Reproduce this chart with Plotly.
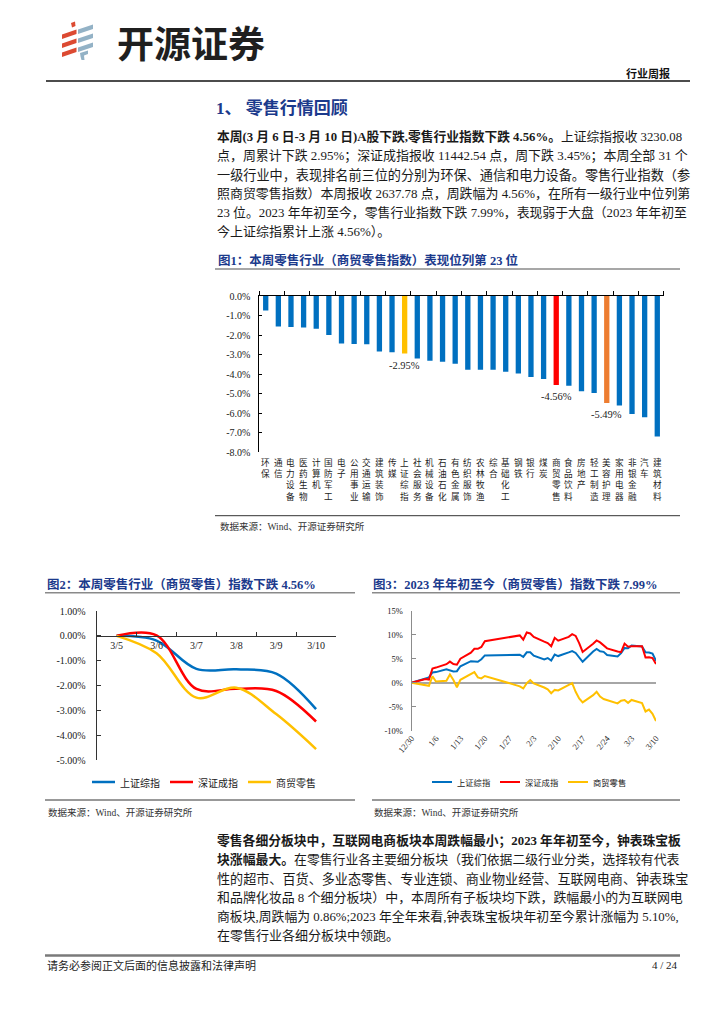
import plotly.graph_objects as go

W, H = 724, 1024
OFF = 8  # the page body margin that the browser adds around the figure


def X(px):
    return (px - OFF) / W


def Y(py):
    return 1 - (py - OFF) / H


# ---------------- data ----------------
industries = ["环保", "通信", "电力设备", "医药生物", "计算机", "国防军工", "电子", "公用事业",
              "交通运输", "建筑装饰", "传媒", "上证综指", "社会服务", "机械设备", "石油石化",
              "有色金属", "纺织服饰", "农林牧渔", "综合", "基础化工", "钢铁", "银行", "煤炭",
              "商贸零售", "食品饮料", "房地产", "轻工制造", "美容护理", "家用电器", "非银金融",
              "汽车", "建筑材料"]
weekly_change = [-0.74, -1.56, -1.59, -1.62, -1.68, -2.00, -2.43, -2.46, -2.48, -2.85, -2.89,
                 -2.95, -3.20, -3.32, -3.37, -3.47, -3.78, -3.78, -3.78, -3.88, -3.97, -4.15,
                 -4.26, -4.56, -4.60, -4.89, -4.97, -5.49, -5.62, -6.05, -6.22, -7.20]
highlight_colors = {"上证综指": "#FFC000", "商贸零售": "#FF0000", "美容护理": "#ED7D31"}
labeled_bars = ["上证综指", "商贸零售", "美容护理"]
bar_ticks = [0, -1, -2, -3, -4, -5, -6, -7, -8]

week_dates = ["3/5", "3/6", "3/7", "3/8", "3/9", "3/10"]
week_sh = [0.0, -0.19, -1.33, -1.35, -1.52, -2.95]
week_sz = [0.0, 0.02, -2.14, -2.13, -2.22, -3.45]
week_retail = [0.0, -0.70, -2.49, -2.09, -3.15, -4.56]
week_ticks = [1, 0, -1, -2, -3, -4, -5]

ytd_dates = ["2022-12-30", "2023-01-03", "2023-01-04", "2023-01-05", "2023-01-06", "2023-01-09",
             "2023-01-10", "2023-01-11", "2023-01-12", "2023-01-13", "2023-01-16", "2023-01-17",
             "2023-01-18", "2023-01-19", "2023-01-20", "2023-01-30", "2023-01-31", "2023-02-01",
             "2023-02-02", "2023-02-03", "2023-02-06", "2023-02-07", "2023-02-08", "2023-02-09",
             "2023-02-10", "2023-02-13", "2023-02-14", "2023-02-15", "2023-02-16", "2023-02-17",
             "2023-02-20", "2023-02-21", "2023-02-22", "2023-02-23", "2023-02-24", "2023-02-27",
             "2023-02-28", "2023-03-01", "2023-03-02", "2023-03-03", "2023-03-06", "2023-03-07",
             "2023-03-08", "2023-03-09", "2023-03-10"]
ytd_sh = [0.00, 0.88, 1.11, 2.14, 2.21, 2.81, 2.60, 2.35, 2.40, 3.43, 4.48, 4.37, 4.37, 4.89,
          5.68, 5.83, 5.39, 6.33, 6.36, 5.64, 4.84, 5.14, 4.62, 5.86, 5.55, 6.31, 6.60, 6.19,
          5.17, 4.36, 6.51, 7.03, 6.54, 6.42, 5.76, 5.46, 6.16, 7.22, 7.17, 7.74, 7.53, 6.34,
          6.28, 6.05, 4.56]
ytd_sz = [0.00, 0.75, 0.65, 2.95, 3.15, 3.85, 4.40, 3.90, 3.75, 5.00, 6.25, 7.05, 7.05, 7.45,
          8.65, 9.85, 8.95, 10.45, 10.25, 9.55, 8.55, 8.25, 7.60, 9.35, 8.75, 9.55, 10.10, 9.75,
          8.25, 6.40, 8.10, 8.80, 8.40, 7.75, 7.15, 6.50, 6.35, 8.15, 7.50, 7.58, 7.60, 5.25,
          5.28, 5.14, 3.87]
ytd_retail = [0.00, -0.45, -0.65, 1.35, 0.25, 0.40, 1.70, 0.55, -0.95, 0.60, 1.80, 2.20, 1.10,
              0.90, 1.40, -0.75, -1.20, -0.10, 0.55, -0.15, -1.00, -1.40, -2.20, -1.50, -1.60,
              -0.45, -0.10, -1.90, -3.30, -4.10, -2.60, -1.90, -2.90, -3.40, -3.60, -4.30, -3.75,
              -3.60, -4.20, -3.59, -4.26, -6.00, -5.60, -6.50, -7.99]
ytd_tick_dates = ["2022-12-30", "2023-01-06", "2023-01-13", "2023-01-20", "2023-01-27",
                  "2023-02-03", "2023-02-10", "2023-02-17", "2023-02-24", "2023-03-03",
                  "2023-03-10"]
ytd_tick_labels = ["12/30", "1/6", "1/13", "1/20", "1/27", "2/3", "2/10", "2/17", "2/24",
                   "3/3", "3/10"]
ytd_ticks = [15, 10, 5, 0, -5, -10]

series_names = ["上证综指", "深证成指", "商贸零售"]
series_colors = ["#0070C0", "#FF0000", "#FFC000"]

# ---------------- styles ----------------
SERIF = "Liberation Serif, Noto Sans CJK SC"
CJK = "Noto Sans CJK SC"
NAVY = "#1B3A8C"
TXT = "#1a1a1a"

fig = go.Figure()

# ---- Figure 1: bars ----
bar_colors = [highlight_colors.get(n, "#0070C0") for n in industries]
fig.add_trace(go.Bar(x=industries, y=weekly_change, marker_color=bar_colors,
                     marker_line_width=0, width=0.42, xaxis="x", yaxis="y",
                     showlegend=False, hoverinfo="skip"))

# ---- Figure 2: weekly lines ----
for name, vals, col in zip(series_names, [week_sh, week_sz, week_retail], series_colors):
    fig.add_trace(go.Scatter(x=week_dates, y=vals, name=name, mode="lines",
                             line=dict(color=col, width=2.5, shape="spline", smoothing=1.0),
                             xaxis="x2", yaxis="y2", showlegend=False, hoverinfo="skip"))

# ---- Figure 3: YTD lines ----
for name, vals, col in zip(series_names, [ytd_sh, ytd_sz, ytd_retail], series_colors):
    fig.add_trace(go.Scatter(x=ytd_dates, y=vals, name=name, mode="lines",
                             line=dict(color=col, width=2),
                             xaxis="x3", yaxis="y3", showlegend=False, hoverinfo="skip"))

axis_font = dict(family=SERIF, size=10, color=TXT)

fig.update_layout(
    template="none",
    width=W, height=H, margin=dict(l=0, r=0, t=0, b=0, pad=0, autoexpand=False),
    paper_bgcolor="white", plot_bgcolor="rgba(0,0,0,0)",
    font=dict(family=SERIF, color=TXT),
    showlegend=False,
    xaxis=dict(domain=[X(259.4), X(663.6)], type="category", side="top", anchor="y",
               showline=True, linecolor="black", linewidth=1, ticks="outside", ticklen=4,
               tickcolor="black", tickson="boundaries", showticklabels=False,
               showgrid=False, range=[-0.5, len(industries) - 0.5], fixedrange=True,
               automargin=False),
    yaxis=dict(domain=[Y(452), Y(296)], range=[-8, 0], anchor="x",
               tickvals=bar_ticks, ticktext=[f"{v:.1f}%" for v in bar_ticks],
               ticks="inside", ticklen=3, tickcolor="black", showline=True,
               linecolor="black", linewidth=1, showgrid=False, zeroline=False,
               tickfont=axis_font, ticklabelstandoff=6, fixedrange=True, automargin=False),
    xaxis2=dict(domain=[X(96.7), X(336)], type="category", anchor="free",
                position=Y(635.5), showline=True, linecolor="#333", linewidth=1,
                ticks="inside", ticklen=4, tickcolor="#333", tickson="boundaries",
                tickfont=dict(family=SERIF, size=10, color=TXT),
                range=[-0.5, len(week_dates) - 0.5], showgrid=False, fixedrange=True,
                automargin=False),
    yaxis2=dict(domain=[Y(760), Y(611)], range=[-5, 1], anchor="x2",
                tickvals=week_ticks, ticktext=[f"{v:.2f}%" for v in week_ticks],
                ticks="inside", ticklen=4, tickcolor="#333", showline=True,
                linecolor="#333", linewidth=1, showgrid=False, zeroline=False,
                tickfont=dict(family=SERIF, size=10, color=TXT), ticklabelstandoff=8,
                fixedrange=True, automargin=False),
    xaxis3=dict(domain=[X(411.5), X(656)], type="date", anchor="y3",
                range=[ytd_dates[0], ytd_dates[-1]], showline=False, ticks="",
                tickvals=ytd_tick_dates, ticktext=ytd_tick_labels, tickangle=-50,
                tickfont=dict(family=SERIF, size=8.5, color=TXT), showgrid=False,
                fixedrange=True, automargin=False),
    yaxis3=dict(domain=[Y(730.7), Y(610.7)], range=[-10, 15], anchor="x3",
                tickvals=ytd_ticks, ticktext=[f"{v}%" for v in ytd_ticks],
                ticks="inside", ticklen=4, tickcolor="#8c8c8c", showline=True,
                linecolor="#8c8c8c", linewidth=1, showgrid=False, zeroline=True,
                zerolinecolor="#a6a6a6", zerolinewidth=2,
                tickfont=dict(family=SERIF, size=8.5, color=TXT), ticklabelstandoff=6,
                fixedrange=True, automargin=False),
)

annotations = []
shapes = []


def text(x, y, s, size=13, color=TXT, family=SERIF, xanchor="left"):
    annotations.append(dict(x=X(x), y=Y(y), xref="paper", yref="paper", text=s,
                            showarrow=False, xanchor=xanchor, yanchor="middle",
                            font=dict(size=size, color=color, family=family)))


def hline(x0, x1, y, color, width):
    shapes.append(dict(type="line", xref="paper", yref="paper", x0=X(x0), x1=X(x1),
                       y0=Y(y), y1=Y(y), line=dict(color=color, width=width)))


# header
text(191, 42, "<b>开源证券</b>", size=37, color="#1f1f1f", family=CJK, xanchor="center")
text(672, 73, "<b>行业周报</b>", size=11, color="#111", family=CJK, xanchor="right")

# section heading
text(214, 108, "<b>1、 零售行情回顾</b>", size=17, color=NAVY, family=SERIF)

para1 = [
    "<b>本周(3 月 6 日-3 月 10 日)A股下跌,零售行业指数下跌 4.56%。</b>上证综指报收 3230.08",
    "点，周累计下跌 2.95%；深证成指报收 11442.54 点，周下跌 3.45%；本周全部 31 个",
    "一级行业中，表现排名前三位的分别为环保、通信和电力设备。零售行业指数（参",
    "照商贸零售指数）本周报收 2637.78 点，周跌幅为 4.56%，在所有一级行业中位列第",
    "23 位。2023 年年初至今，零售行业指数下跌 7.99%，表现弱于大盘（2023 年年初至",
    "今上证综指累计上涨 4.56%）。",
]
para1_sizes = [12.75, 12.95, 13.15, 12.95, 12.85, 13]
for i, (line, sz) in enumerate(zip(para1, para1_sizes)):
    text(215, 136.7 + i * 19, line, size=sz)

# figure titles
text(216, 260, "<b>图1：本周零售行业（商贸零售指数）表现位列第 23 位</b>", size=12.5, color=NAVY)
text(45, 584, "<b>图2：本周零售行业（商贸零售）指数下跌 4.56%</b>", size=12.5, color=NAVY)
text(371, 584, "<b>图3：2023 年年初至今（商贸零售）指数下跌 7.99%</b>", size=12.5, color=NAVY)

# sources
src = "数据来源：Wind、开源证券研究所"
text(218, 526, src, size=9.5, color="#333")
text(46, 812, src, size=9.5, color="#333")
text(372, 812, src, size=9.5, color="#333")

para2 = [
    "<b>零售各细分板块中，互联网电商板块本周跌幅最小；2023 年年初至今，钟表珠宝板</b>",
    "<b>块涨幅最大。</b>在零售行业各主要细分板块（我们依据二级行业分类，选择较有代表",
    "性的超市、百货、多业态零售、专业连锁、商业物业经营、互联网电商、钟表珠宝",
    "和品牌化妆品 8 个细分板块）中，本周所有子板块均下跌，跌幅最小的为互联网电",
    "商板块,周跌幅为 0.86%;2023 年全年来看,钟表珠宝板块年初至今累计涨幅为 5.10%,",
    "在零售行业各细分板块中领跑。",
]
para2_sizes = [12.8, 12.85, 13.1, 12.95, 12.85, 13]
for i, (line, sz) in enumerate(zip(para2, para2_sizes)):
    text(215, 841 + i * 18.8, line, size=sz)

# footer
text(45, 965, "请务必参阅正文后面的信息披露和法律声明", size=11, color="#222")
text(680, 965, "4 / 24", size=11, color="#222", xanchor="right")

# bar chart category labels (vertical, one character per line)
for name in industries:
    annotations.append(dict(x=name, y=Y(454), xref="x", yref="paper",
                            text="<br>".join(name), showarrow=False, xanchor="center",
                            yanchor="top", align="center",
                            font=dict(size=8.6, color="#222", family=CJK)))

# bar value labels
for name in labeled_bars:
    v = weekly_change[industries.index(name)]
    annotations.append(dict(x=name, y=v, xref="x", yref="y", text=f"{v:.2f}%",
                            showarrow=False, xanchor="center", yanchor="top", yshift=-4,
                            font=dict(size=10.5, color="#222", family=SERIF)))

# legends (line sample + label) for figures 2 and 3
legend2_x = [92, 170, 248]
legend3_x = [432, 500, 568]
for name, col, lx in zip(series_names, series_colors, legend2_x):
    hline(lx, lx + 23, 782, col, 2.5)
    text(lx + 26, 782, name, size=10, family=CJK)
for name, col, lx in zip(series_names, series_colors, legend3_x):
    hline(lx, lx + 20, 782, col, 2)
    text(lx + 23, 782, name, size=8.3, family=CJK)

fig.update_layout(annotations=annotations)

# ---------------- rules ----------------
hline(46, 690, 81, "#111", 1.5)
hline(215, 680, 269, "#8a8a8a", 1.5)
hline(215, 680, 515.7, "#333", 1)
hline(45, 355, 592.7, "#8a8a8a", 1.5)
hline(372, 680, 592.7, "#8a8a8a", 1.5)
hline(45, 355, 800, "#333", 1)
hline(372, 680, 800, "#333", 1)
hline(45, 680, 955.5, "#7a7a7a", 2.5)


def poly(points, color):
    d = "M " + " L ".join(f"{X(px)},{Y(py)}" for px, py in points) + " Z"
    shapes.append(dict(type="path", xref="paper", yref="paper", path=d,
                       fillcolor=color, line=dict(width=0)))


# logo icon: slanted stripes
RED = "#DC4A32"
BLUE = "#93B2C6"
poly([(71, 23), (75, 21.5), (75.5, 26), (72, 27.5)], RED)
for yc in [31.5, 40.5, 49.5]:
    poly([(62, yc + 3), (76.5, yc - 2), (76.5, yc + 2.5), (62, yc + 7.5)], RED)
for yc in [26.5, 35.5, 44.5]:
    poly([(78, yc + 3), (93, yc - 2), (93, yc + 2.5), (78, yc + 7.5)], BLUE)
poly([(80, 53), (88, 50.5), (88, 54), (84, 55.5), (84.5, 60), (81.5, 60), (80.5, 56.5)], BLUE)

fig.update_layout(shapes=shapes)

fig.write_html("out.html")
